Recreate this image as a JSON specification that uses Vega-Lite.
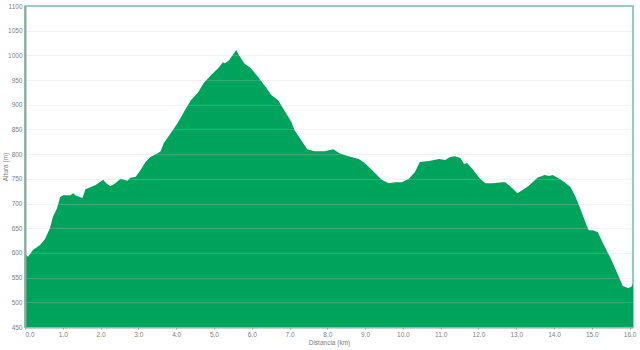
{
  "$schema": "https://vega.github.io/schema/vega-lite/v6.json",
  "autosize": {"type": "none"},
  "padding": {"left": 25, "top": 6, "right": 7, "bottom": 22},
  "width": 608,
  "height": 321,
  "background": "white",
  "config": {
    "view": {"stroke": "#66c2a0", "strokeWidth": 1.5},
    "axis": {"labelFont": "Liberation Sans", "titleFont": "Liberation Sans", "labelColor": "#808080", "titleColor": "#808080", "labelFontSize": 6.5, "titleFontSize": 6.5, "titleFontWeight": "normal"}
  },
  "data": {"values": [
    {"km": 0, "alt": 598}, {"km": 0.08, "alt": 592}, {"km": 0.21, "alt": 606}, {"km": 0.40, "alt": 616},
    {"km": 0.53, "alt": 628}, {"km": 0.66, "alt": 650}, {"km": 0.74, "alt": 673}, {"km": 0.85, "alt": 691},
    {"km": 0.93, "alt": 713}, {"km": 1.01, "alt": 717}, {"km": 1.20, "alt": 717}, {"km": 1.28, "alt": 721},
    {"km": 1.33, "alt": 717}, {"km": 1.52, "alt": 711}, {"km": 1.60, "alt": 729}, {"km": 1.73, "alt": 733},
    {"km": 1.86, "alt": 737}, {"km": 2.07, "alt": 748}, {"km": 2.15, "alt": 741}, {"km": 2.26, "alt": 735},
    {"km": 2.39, "alt": 741}, {"km": 2.53, "alt": 750}, {"km": 2.71, "alt": 746}, {"km": 2.79, "alt": 752},
    {"km": 2.93, "alt": 754}, {"km": 3.06, "alt": 768}, {"km": 3.19, "alt": 784}, {"km": 3.32, "alt": 794},
    {"km": 3.51, "alt": 802}, {"km": 3.59, "alt": 806}, {"km": 3.67, "alt": 822}, {"km": 3.86, "alt": 843},
    {"km": 4.04, "alt": 863}, {"km": 4.20, "alt": 885}, {"km": 4.39, "alt": 909}, {"km": 4.57, "alt": 924},
    {"km": 4.73, "alt": 944}, {"km": 4.92, "alt": 960}, {"km": 5.11, "alt": 974}, {"km": 5.24, "alt": 986},
    {"km": 5.29, "alt": 984}, {"km": 5.40, "alt": 990}, {"km": 5.59, "alt": 1011}, {"km": 5.66, "alt": 1001},
    {"km": 5.80, "alt": 984}, {"km": 5.98, "alt": 974}, {"km": 6.17, "alt": 956}, {"km": 6.33, "alt": 940},
    {"km": 6.52, "alt": 920}, {"km": 6.70, "alt": 909}, {"km": 6.86, "alt": 889}, {"km": 7.05, "alt": 865},
    {"km": 7.13, "alt": 849}, {"km": 7.31, "alt": 828}, {"km": 7.47, "alt": 810}, {"km": 7.66, "alt": 806},
    {"km": 7.93, "alt": 806}, {"km": 8.16, "alt": 810}, {"km": 8.32, "alt": 802}, {"km": 8.56, "alt": 796},
    {"km": 8.83, "alt": 790}, {"km": 8.99, "alt": 782}, {"km": 9.18, "alt": 768}, {"km": 9.44, "alt": 748},
    {"km": 9.63, "alt": 741}, {"km": 9.79, "alt": 743}, {"km": 9.97, "alt": 743}, {"km": 10.16, "alt": 750},
    {"km": 10.32, "alt": 764}, {"km": 10.45, "alt": 784}, {"km": 10.69, "alt": 786}, {"km": 10.96, "alt": 790},
    {"km": 11.12, "alt": 788}, {"km": 11.25, "alt": 794}, {"km": 11.38, "alt": 796}, {"km": 11.52, "alt": 792},
    {"km": 11.62, "alt": 780}, {"km": 11.70, "alt": 782}, {"km": 11.84, "alt": 770}, {"km": 12.02, "alt": 752},
    {"km": 12.18, "alt": 741}, {"km": 12.37, "alt": 741}, {"km": 12.63, "alt": 743}, {"km": 12.71, "alt": 743},
    {"km": 12.90, "alt": 731}, {"km": 13.03, "alt": 721}, {"km": 13.16, "alt": 727}, {"km": 13.35, "alt": 737},
    {"km": 13.56, "alt": 752}, {"km": 13.75, "alt": 758}, {"km": 13.88, "alt": 756}, {"km": 13.96, "alt": 758},
    {"km": 14.10, "alt": 752}, {"km": 14.28, "alt": 743}, {"km": 14.44, "alt": 733}, {"km": 14.57, "alt": 713},
    {"km": 14.71, "alt": 687}, {"km": 14.84, "alt": 660}, {"km": 14.92, "alt": 646}, {"km": 15.03, "alt": 646},
    {"km": 15.16, "alt": 642}, {"km": 15.29, "alt": 620}, {"km": 15.48, "alt": 592}, {"km": 15.64, "alt": 565},
    {"km": 15.82, "alt": 533}, {"km": 15.96, "alt": 529}, {"km": 16.04, "alt": 531}, {"km": 16.09, "alt": 537}
  ]},
  "mark": {"type": "area", "color": "#00a35b", "clip": true, "interpolate": "linear"},
  "encoding": {
    "x": {
      "field": "km", "type": "quantitative",
      "scale": {"domain": [0, 16.09], "nice": false, "zero": false},
      "axis": {
        "title": "Distancia  (km)", "titleY": 12, "titlePadding": 0,
        "values": [0,1,2,3,4,5,6,7,8,9,10,11,12,13,14,15,16],
        "format": ".1f", "labelFlush": true, "labelOverlap": false,
        "grid": false, "domainColor": "#a0a0a0", "domainWidth": 2,
        "tickSize": 2, "tickColor": "#a0a0a0", "labelPadding": 2
      }
    },
    "y": {
      "field": "alt", "type": "quantitative",
      "scale": {"domain": [450, 1100], "nice": false, "zero": false},
      "axis": {
        "title": "Altura (m)", "titleX": -17, "titleBaseline": "bottom", "titleAngle": -90,
        "values": [450,500,550,600,650,700,750,800,850,900,950,1000,1050,1100],
        "format": "d", "labelOverlap": false,
        "grid": true, "gridColor": "#cccccc", "gridOpacity": 0.25, "gridWidth": 1,
        "zindex": 1, "domainColor": "#a0a0a0", "domainWidth": 2,
        "ticks": false, "labelPadding": 3
      }
    }
  }
}
